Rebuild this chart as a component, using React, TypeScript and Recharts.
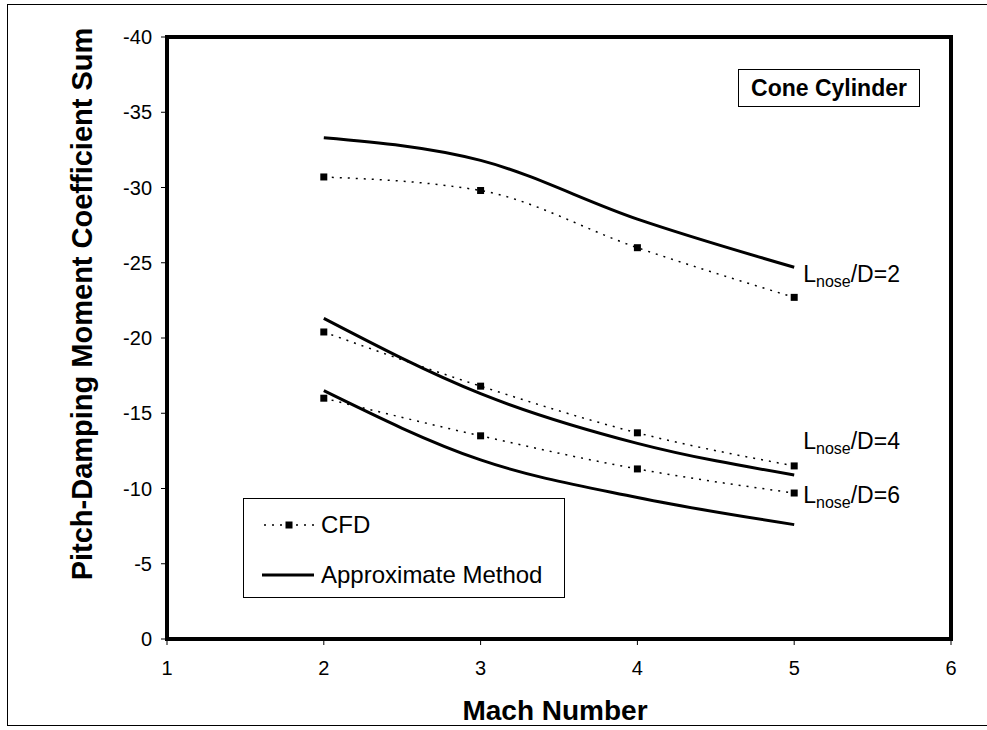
import React from 'react';
import { LineChart, Line, XAxis, YAxis, ReferenceArea } from 'recharts';

const machNumbers = [2, 3, 4, 5];
const cfdLD2 = [-30.7, -29.8, -26.0, -22.7];
const approxLD2 = [-33.3, -31.8, -27.9, -24.7];
const cfdLD4 = [-20.4, -16.8, -13.7, -11.5];
const approxLD4 = [-21.3, -16.3, -13.0, -10.9];
const cfdLD6 = [-16.0, -13.5, -11.3, -9.7];
const approxLD6 = [-16.5, -11.9, -9.4, -7.6];
const xTicks = [1, 2, 3, 4, 5, 6];
const yTicks = [-40, -35, -30, -25, -20, -15, -10, -5, 0];
const legendItems = ['CFD', 'Approximate Method'];

const data = machNumbers.map((m, i) => ({
  mach: m,
  cfd2: cfdLD2[i],
  approx2: approxLD2[i],
  cfd4: cfdLD4[i],
  approx4: approxLD4[i],
  cfd6: cfdLD6[i],
  approx6: approxLD6[i],
}));

const FONT = '"Liberation Sans", Arial, sans-serif';
const last = machNumbers.length - 1;

const SquareDot = (props: any) => {
  const { cx, cy } = props;
  if (cx == null || cy == null) return null;
  return <rect x={cx - 3.5} y={cy - 3.5} width={7} height={7} fill="#000" />;
};

// label at the right end of a curve, L with "nose" subscript
const noseLabel = (ratio: string, dy: number) => (props: any) => {
  const { x, y, index } = props;
  if (index !== last) return null;
  return (
    <text x={x + 9} y={y + dy} fontFamily={FONT} fontSize={23} fill="#000">
      <tspan>L</tspan>
      <tspan fontSize={16} dy={5}>nose</tspan>
      <tspan dy={-5}>/D={ratio}</tspan>
    </text>
  );
};

const tickStyle = { fill: '#000', fontSize: 20, fontFamily: FONT };

const App: React.FC = () => {
  return (
    <div style={{ position: 'absolute', left: 0, top: 0, width: 987, height: 730, background: '#fff', fontFamily: FONT }}>
      <div style={{ position: 'absolute', left: 7, top: 4, width: 980, height: 720, borderLeft: '1.5px solid #000', borderTop: '1.5px solid #000', borderBottom: '1.5px solid #000' }} />
      <LineChart
        width={987}
        height={730}
        data={data}
        margin={{ top: 37, right: 36, left: 107, bottom: 61 }}
        style={{ position: 'absolute', left: 0, top: 0 }}
      >
        <XAxis
          dataKey="mach"
          type="number"
          domain={[1, 6]}
          ticks={xTicks}
          height={30}
          axisLine={false}
          tickLine={{ stroke: '#000', strokeWidth: 1 }}
          tickSize={6}
          tickMargin={16}
          tick={tickStyle}
        />
        <YAxis
          type="number"
          domain={[-40, 0]}
          ticks={yTicks}
          reversed
          width={60}
          axisLine={false}
          tickLine={{ stroke: '#000', strokeWidth: 1 }}
          tickSize={6}
          tickMargin={9}
          tick={tickStyle}
        />
        <ReferenceArea x1={1} x2={6} y1={-40} y2={0} fill="none" stroke="#000" strokeWidth={4} />
        <Line type="monotone" dataKey="cfd2" stroke="#000" strokeWidth={1.5} strokeDasharray="2 6" dot={<SquareDot />} isAnimationActive={false} />
        <Line type="monotone" dataKey="approx2" stroke="#000" strokeWidth={3} dot={false} isAnimationActive={false} label={noseLabel('2', 15)} />
        <Line type="monotone" dataKey="cfd4" stroke="#000" strokeWidth={1.5} strokeDasharray="2 6" dot={<SquareDot />} isAnimationActive={false} label={noseLabel('4', -17)} />
        <Line type="monotone" dataKey="approx4" stroke="#000" strokeWidth={3} dot={false} isAnimationActive={false} />
        <Line type="monotone" dataKey="cfd6" stroke="#000" strokeWidth={1.5} strokeDasharray="2 6" dot={<SquareDot />} isAnimationActive={false} label={noseLabel('6', 10)} />
        <Line type="monotone" dataKey="approx6" stroke="#000" strokeWidth={3} dot={false} isAnimationActive={false} />
      </LineChart>

      <svg width={987} height={730} style={{ position: 'absolute', left: 0, top: 0, pointerEvents: 'none' }}>
        <text x={555} y={720} textAnchor="middle" fontFamily={FONT} fontWeight="bold" fontSize={28} fill="#000">
          Mach Number
        </text>
        <text transform="translate(92,304) rotate(-90)" textAnchor="middle" fontFamily={FONT} fontWeight="bold" fontSize={29} fill="#000">
          Pitch-Damping Moment Coefficient Sum
        </text>
      </svg>

      <div style={{ position: 'absolute', left: 738, top: 69, width: 180, height: 36, border: '1.5px solid #000', display: 'flex', alignItems: 'center', justifyContent: 'center', fontWeight: 'bold', fontSize: 23, background: '#fff' }}>
        Cone Cylinder
      </div>

      <div style={{ position: 'absolute', left: 243, top: 498, width: 320, height: 98, border: '1px solid #000', background: '#fff' }}>
        {legendItems.map((name, i) => (
          <div key={name} style={{ position: 'absolute', left: 18, top: 10 + i * 50, height: 32, display: 'flex', alignItems: 'center', fontSize: 24 }}>
            <svg width={54} height={12} style={{ marginRight: 5 }}>
              {i === 0 ? (
                <>
                  <line x1={2} y1={6} x2={52} y2={6} stroke="#000" strokeWidth={1.5} strokeDasharray="2 6" />
                  <rect x={23.5} y={2.5} width={7} height={7} fill="#000" />
                </>
              ) : (
                <line x1={0} y1={6} x2={52} y2={6} stroke="#000" strokeWidth={3} />
              )}
            </svg>
            <span>{name}</span>
          </div>
        ))}
      </div>
    </div>
  );
};

export default App;
